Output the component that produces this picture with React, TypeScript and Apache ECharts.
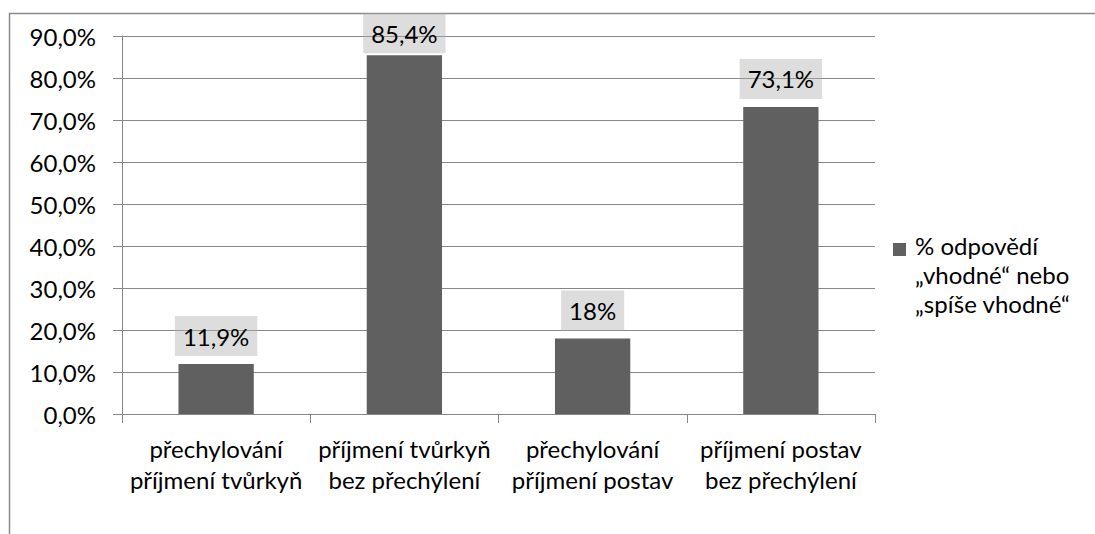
import React, { useEffect, useRef } from "react";
import * as echarts from "echarts";

const categories = [
  "přechylování\npříjmení tvůrkyň",
  "příjmení tvůrkyň\nbez přechýlení",
  "přechylování\npříjmení postav",
  "příjmení postav\nbez přechýlení",
];
const values = [11.9, 85.4, 18, 73.1];
const valueLabels = ["11,9%", "85,4%", "18%", "73,1%"];
const labelDistances = [8, 2, 8, 8];
const seriesName = "% odpovědí\n„vhodné“ nebo\n„spíše vhodné“";

const FONT = "Lato";
const GRAY = "#878787";
const FS = 24;

export default function App() {
  const ref = useRef<HTMLDivElement>(null);
  useEffect(() => {
    if (!ref.current) return;
    const chart = echarts.init(ref.current, null, { renderer: "svg" });
    chart.setOption({
      animation: false,
      backgroundColor: "#ffffff",
      textStyle: { fontFamily: FONT },
      grid: { left: 122, right: 220, top: 36, bottom: 120, containLabel: false },
      xAxis: {
        type: "category",
        data: categories,
        axisLine: { lineStyle: { color: GRAY, width: 1 } },
        axisTick: { show: true, alignWithLabel: false, length: 9, lineStyle: { color: GRAY } },
        axisLabel: {
          color: "#000",
          fontFamily: FONT,
          fontSize: FS,
          lineHeight: 31,
          margin: 19,
          interval: 0,
        },
      },
      yAxis: {
        type: "value",
        min: 0,
        max: 90,
        interval: 10,
        axisLine: { show: true, lineStyle: { color: GRAY, width: 1 } },
        axisTick: { show: true, length: 9, lineStyle: { color: GRAY } },
        splitLine: { show: true, lineStyle: { color: GRAY, width: 1 } },
        axisLabel: {
          color: "#000",
          fontFamily: FONT,
          fontSize: FS,
          margin: 26,
          formatter: (v: number) => v.toFixed(1).replace(".", ",") + "%",
        },
      },
      series: [
        {
          name: seriesName,
          type: "bar",
          data: values.map((v, i) => ({
            value: v,
            label: { distance: labelDistances[i] },
          })),
          barWidth: "40%",
          itemStyle: { color: "#606060" },
          label: {
            show: true,
            position: "top",
            distance: 8,
            formatter: (p: any) => valueLabels[p.dataIndex],
            color: "#000",
            fontFamily: FONT,
            fontSize: FS,
            lineHeight: 30,
            backgroundColor: "rgba(175,175,175,0.42)",
            padding: [5, 8],
          },
        },
      ],
      graphic: [
        {
          type: "rect",
          shape: { x: 9.5, y: 13.5, width: 1200, height: 700 },
          style: { fill: "none", stroke: "#8a8a8a", lineWidth: 1.5 },
          silent: true,
          z: -10,
        },
        {
          type: "rect",
          shape: { x: 893, y: 243, width: 13, height: 13 },
          style: { fill: "#606060" },
        },
        {
          type: "text",
          x: 915,
          y: 230.5,
          style: {
            text: seriesName,
            fontFamily: FONT,
            fontSize: FS,
            lineHeight: 29,
            fill: "#000",
            textAlign: "left",
            textVerticalAlign: "top",
          },
        },
      ],
    });
    return () => chart.dispose();
  }, []);
  return (
    <div
      ref={ref}
      style={{ position: "fixed", left: 0, top: 0, width: 1095, height: 534 }}
    />
  );
}
